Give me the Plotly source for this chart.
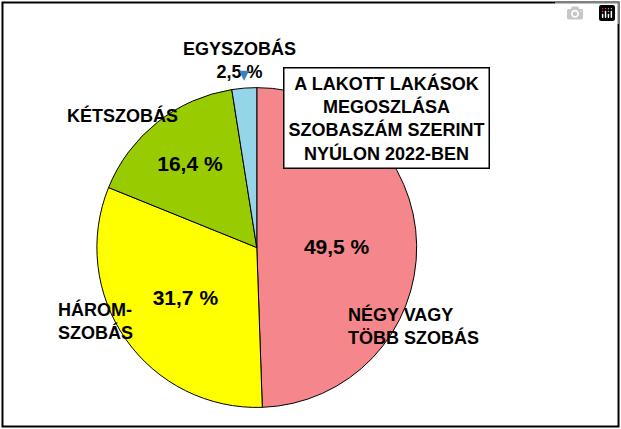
import plotly.graph_objects as go

labels = ["NÉGY VAGY TÖBB SZOBÁS", "HÁROMSZOBÁS", "KÉTSZOBÁS", "EGYSZOBÁS"]
values = [49.5, 31.7, 16.4, 2.5]
colors = ["#F5868B", "#FFFF00", "#99CC00", "#95D5EA"]
inside_text = ["<b>%{value:.1f} %</b>", "<b>%{value:.1f} %</b>", "<b>%{value:.1f} %</b>", ""]

fnt = dict(family="Liberation Sans, Arial", size=18, color="black")

fig = go.Figure(go.Pie(
    labels=labels, values=values, sort=False, direction="clockwise", rotation=0,
    marker=dict(colors=colors, line=dict(color="black", width=1)),
    texttemplate=inside_text, textposition="inside", insidetextorientation="horizontal",
    textfont=dict(family="Liberation Sans, Arial", size=21, color="black"),
    domain=dict(x=[0.156, 0.671], y=[0.037, 0.809]), hoverinfo="label+value",
))

fig.update_layout(
    width=621, height=429, margin=dict(l=0, r=0, t=0, b=0), showlegend=False,
    paper_bgcolor="white", separators=", ",
    annotations=[
        dict(text="<b>NÉGY VAGY<br>TÖBB SZOBÁS</b>", x=0.775, y=0.185, font=fnt, align="left"),
        dict(text="<b>HÁROM-<br>SZOBÁS</b>", x=0.09, y=0.195, font=fnt, align="left"),
        dict(text="<b>KÉTSZOBÁS</b>", x=0.105, y=0.76, font=fnt),
        dict(text="<b>EGYSZOBÁS<br>2,5 %</b>", x=0.385, y=0.915, font=fnt),
        dict(text="", x=0.393, y=0.812, ax=0, ay=-10, showarrow=True, arrowhead=2,
             arrowsize=1, arrowwidth=2, arrowcolor="#3A7FC1", xref="paper", yref="paper"),
        dict(text="<b>A LAKOTT LAKÁSOK<br>MEGOSZLÁSA<br>SZOBASZÁM SZERINT<br>NYÚLON 2022-BEN</b>",
             x=0.789, y=0.844, font=fnt, bordercolor="black", borderwidth=1.5, borderpad=4,
             bgcolor="white"),
    ],
    shapes=[dict(type="rect", xref="paper", yref="paper", x0=0.004, x1=0.996, y0=0.006, y1=0.994,
                 line=dict(color="black", width=2))],
)
for a in fig.layout.annotations:
    a.xref = "paper"; a.yref = "paper"
    if a.showarrow is None:
        a.showarrow = False

fig.write_html("out.html", post_script="document.body.style.margin='0';")
